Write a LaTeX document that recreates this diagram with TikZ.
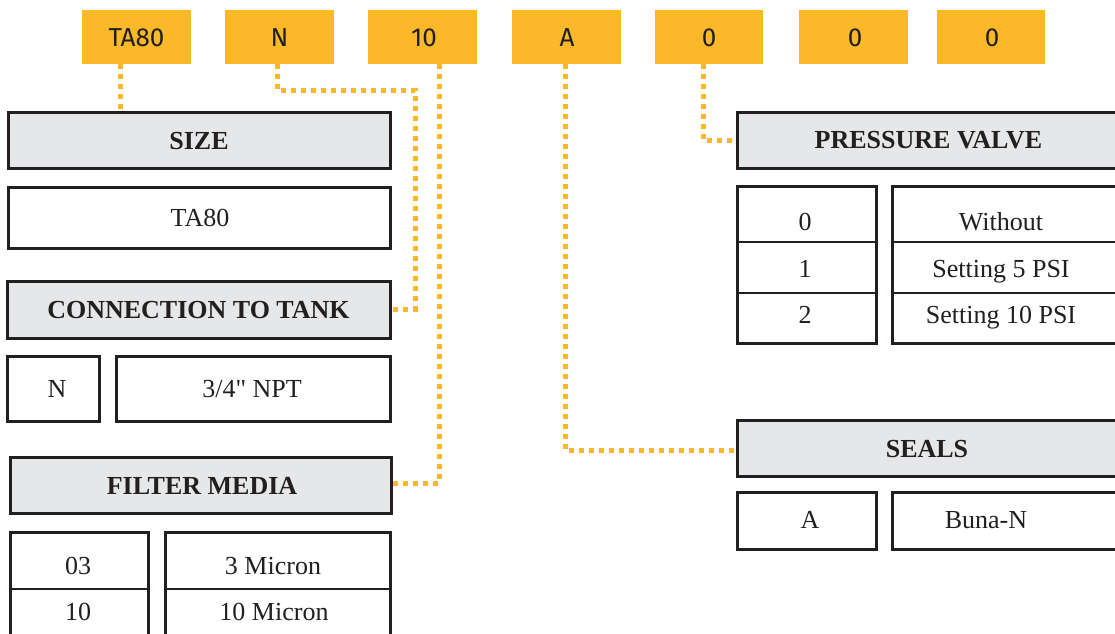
\documentclass[tikz,border=0pt]{standalone}
\usepackage{fontspec}
\setmainfont{Liberation Serif}[Ligatures=TeXOff]
\newfontfamily\handfont{Fira Sans}
\definecolor{org}{HTML}{FBB829}
\definecolor{hdrgray}{HTML}{E6E7E8}
\definecolor{ink}{HTML}{231F20}
\begin{document}
\begin{tikzpicture}[x=1pt,y=-1pt,
  code/.style={fill=org, minimum height=54pt, inner sep=0pt},
  codetxt/.style={anchor=base, inner sep=0pt, text=ink, font=\handfont\fontsize{26}{26}\selectfont},
  hdrbox/.style={draw=ink, line width=3pt, fill=hdrgray, inner sep=0pt},
  cellbox/.style={draw=ink, line width=3pt, fill=white, inner sep=0pt},
  hdrtxt/.style={anchor=base, inner sep=0pt, text=ink, font=\bfseries\fontsize{26}{26}\selectfont},
  celltxt/.style={anchor=base, inner sep=0pt, text=ink, font=\fontsize{26}{26}\selectfont},
  rowline/.style={draw=ink, line width=2pt},
  dotline/.style={draw=org, line width=5pt, dash pattern=on 5pt off 5pt}]
\useasboundingbox (0,0) rectangle (1115,633);
\clip (0,0) rectangle (1115,633);

% code boxes
\node[code, minimum width=109pt] (cta) at (136.5,36.5) {};
\node[code, minimum width=109pt] (cn)  at (279.5,36.5) {};
\node[code, minimum width=109pt] (c10) at (422.5,36.5) {};
\node[code, minimum width=109pt] (ca)  at (566.5,36.5) {};
\node[code, minimum width=108pt] (c0a) at (709,36.5) {};
\node[code, minimum width=109pt] (c0b) at (853.5,36.5) {};
\node[code, minimum width=108pt] (c0c) at (991,36.5) {};
\node[codetxt] (tcta) at (136.5,46) {TA80};
\node[codetxt] (tcn)  at (279.5,46) {N};
\node[codetxt] (tc10) at (424,46) {10};
\node[codetxt] (tca)  at (567,46) {A};
\node[codetxt] (tc0a) at (709,46) {0};
\node[codetxt] (tc0b) at (855,46) {0};
\node[codetxt] (tc0c) at (992,46) {0};

% SIZE
\node[hdrbox, minimum width=382pt, minimum height=56pt] (size) at (199,140) {};
\node[hdrtxt] (tsize) at (199,149) {SIZE};
\node[cellbox, minimum width=382pt, minimum height=61pt] (sizev) at (199,217.5) {};
\node[celltxt] (tsizev) at (200,226) {TA80};

% CONNECTION TO TANK
\node[hdrbox, minimum width=383pt, minimum height=57pt] (conn) at (199,309.5) {};
\node[hdrtxt] (tconn) at (198.5,318) {CONNECTION TO TANK};
\node[cellbox, minimum width=92pt, minimum height=65pt] (connk) at (53,388.5) {};
\node[cellbox, minimum width=274pt, minimum height=65pt] (connv) at (253,388.5) {};
\node[celltxt] (tconnk) at (57,397.5) {N};
\node[celltxt] (tconnv) at (252,397.5) {3/4" NPT};

% FILTER MEDIA
\node[hdrbox, minimum width=381pt, minimum height=56pt] (filt) at (200.5,485) {};
\node[hdrtxt] (tfilt) at (202,494) {FILTER MEDIA};
\node[cellbox, minimum width=138pt, minimum height=130pt] (filtk) at (79,597) {};
\node[cellbox, minimum width=225pt, minimum height=130pt] (filtv) at (277.5,597) {};
\draw[rowline] (filtk.west |- 0,589) -- (filtk.east |- 0,589);
\draw[rowline] (filtv.west |- 0,589) -- (filtv.east |- 0,589);
\node[celltxt] (tf1k) at (78,574) {03};
\node[celltxt] (tf1v) at (273,574) {3 Micron};
\node[celltxt] (tf2k) at (78,620.5) {10};
\node[celltxt] (tf2v) at (274,620.5) {10 Micron};

% PRESSURE VALVE
\node[hdrbox, minimum width=390pt, minimum height=56pt] (pv) at (932,140) {};
\node[hdrtxt] (tpv) at (928.5,148) {PRESSURE VALVE};
\node[cellbox, minimum width=139pt, minimum height=157pt] (pvk) at (806.5,264.5) {};
\node[cellbox, minimum width=240pt, minimum height=157pt] (pvv) at (1012,264.5) {};
\draw[rowline] (pvk.west |- 0,242) -- (pvk.east |- 0,242);
\draw[rowline] (pvk.west |- 0,293) -- (pvk.east |- 0,293);
\draw[rowline] (pvv.west |- 0,242) -- (pvv.east |- 0,242);
\draw[rowline] (pvv.west |- 0,293) -- (pvv.east |- 0,293);
\node[celltxt] (tp0k) at (805,230) {0};
\node[celltxt] (tp0v) at (1001,230) {Without};
\node[celltxt] (tp1k) at (805,277) {1};
\node[celltxt] (tp1v) at (1001,277) {Setting 5 PSI};
\node[celltxt] (tp2k) at (805,323) {2};
\node[celltxt] (tp2v) at (1001,323) {Setting 10 PSI};

% SEALS
\node[hdrbox, minimum width=390pt, minimum height=56pt] (seal) at (932,448) {};
\node[hdrtxt] (tseal) at (927,457.5) {SEALS};
\node[cellbox, minimum width=139pt, minimum height=57pt] (sealk) at (806.5,520.5) {};
\node[cellbox, minimum width=240pt, minimum height=57pt] (sealv) at (1012,520.5) {};
\node[celltxt] (tsk) at (810,528.5) {A};
\node[celltxt] (tsv) at (986,528.5) {Buna-N};

% connectors
\coordinate (nbend1) at (415,90);
\coordinate (tenbend) at (439,483);
\coordinate (abend) at (565,450);
\coordinate (obend) at (703.5,140);
\draw[dotline] (cta.south -| 120,0) -- (size.north -| 120,0);
\draw[dotline] (cn.south -| 277.7,0) |- (nbend1) |- (conn.east);
\draw[dotline] (c10.south -| tenbend) -- (tenbend) -- (filt.east |- tenbend);
\draw[dotline] (ca.south -| abend) -- (abend) -- (seal.west |- abend);
\draw[dotline] (c0a.south -| obend) -- (obend) -- (pv.west |- obend);
\end{tikzpicture}
\end{document}
